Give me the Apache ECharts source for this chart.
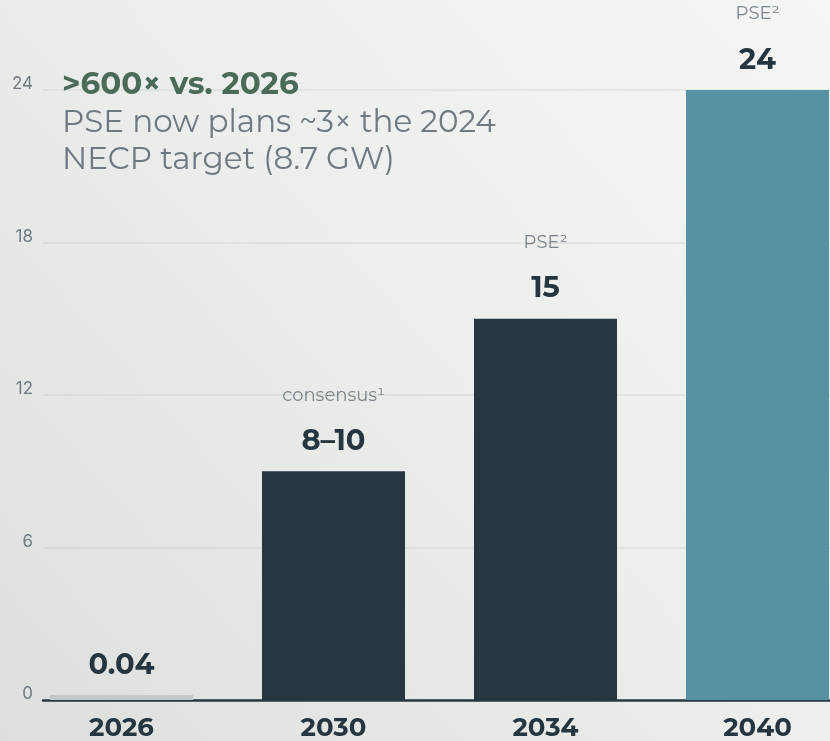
<!DOCTYPE html>
<html>
<head>
<meta charset="utf-8">
<script src="https://cdn.jsdelivr.net/npm/echarts@6/dist/echarts.min.js"></script>
<style>
  html, body { margin: 0; padding: 0; }
  #chart { width: 830px; height: 741px; }
</style>
</head>
<body>
<div id="chart"></div>
<script>
// Offshore wind capacity outlook for Poland (GW)
const years = ['2026', '2030', '2034', '2040'];
const capacity = [0.04, 9, 15, 24];
const valueLabels = ['0.04', '8–10', '15', '24'];
const sourceNotes = ['', 'consensus¹', 'PSE²', 'PSE²'];
const yTicks = [0, 6, 12, 18, 24];

const headline = '>600× vs. 2026';
const subLines = ['PSE now plans ~3× the 2024', 'NECP target (8.7 GW)'];

// bar fills per category
const barFills = ['#c4c8cb', '#273741', '#273741', '#5692a4'];

const FONT = 'Montserrat, Inter, "Open Sans", sans-serif';
const DARK = '#263640';
const GREY = '#707b83';

const chart = echarts.init(document.getElementById('chart'), null, { renderer: 'canvas' });

const yMin = yTicks[0];
const yMax = yTicks[yTicks.length - 1];
const yStep = yTicks[1] - yTicks[0];

const barData = capacity.map((v, i) => ({
  value: v,
  itemStyle: { color: barFills[i] },
  label: {
    formatter: sourceNotes[i]
      ? '{s|' + sourceNotes[i] + '}\n{v|' + valueLabels[i] + '}'
      : '{v|' + valueLabels[i] + '}'
  }
}));

chart.setOption({
  animation: false,
  backgroundColor: {
    type: 'linear', x: 0, y: 1, x2: 1, y2: 0,
    colorStops: [
      { offset: 0, color: '#dcdfdb' },
      { offset: 0.55, color: '#edefed' },
      { offset: 1, color: '#f5f6f4' }
    ]
  },
  textStyle: { fontFamily: FONT },
  title: {
    left: 62,
    top: 65,
    padding: 0,
    text: '{h|' + headline + '}\n' + subLines.map(s => '{b|' + s + '}').join('\n'),
    textStyle: {
      rich: {
        h: { fontFamily: FONT, fontSize: 31, fontWeight: 'bold', color: '#4a6b57', lineHeight: 39 },
        b: { fontFamily: FONT, fontSize: 31, fontWeight: 'normal', color: '#6e7980', lineHeight: 37 }
      }
    }
  },
  grid: [
    { left: 43, right: 0, top: 90, bottom: 41, outerBoundsMode: 'none' },
    { left: 15.5, right: -33.5, top: 90, bottom: 41, outerBoundsMode: 'none' }
  ],
  xAxis: [
    {
      gridIndex: 0, type: 'category', data: years,
      axisLine: { show: true, lineStyle: { color: '#283841', width: 2.5 } },
      axisTick: { show: false }, axisLabel: { show: false }
    },
    {
      gridIndex: 1, type: 'category', data: years,
      axisLine: { show: false }, axisTick: { show: false },
      axisLabel: {
        margin: 15,
        fontFamily: FONT, fontSize: 26, fontWeight: 'bold', color: DARK
      }
    }
  ],
  yAxis: [
    {
      gridIndex: 0, type: 'value', min: yMin, max: yMax, interval: yStep,
      axisLine: { show: false }, axisTick: { show: false },
      axisLabel: {
        margin: 10, fontFamily: 'Inter, sans-serif', fontSize: 17, color: GREY,
        verticalAlign: 'bottom', lineHeight: 12
      },
      splitLine: { show: true, lineStyle: { color: 'rgba(190,196,192,0.25)', width: 2 } }
    },
    {
      gridIndex: 1, type: 'value', min: yMin, max: yMax, interval: yStep,
      axisLine: { show: false }, axisTick: { show: false },
      axisLabel: { show: false }, splitLine: { show: false }
    }
  ],
  series: [
    {
      type: 'bar',
      xAxisIndex: 1, yAxisIndex: 1,
      barWidth: 143,
      barMinHeight: 5,
      data: barData,
      label: {
        show: true,
        position: 'top',
        distance: 13,
        rich: {
          s: { fontFamily: FONT, fontSize: 18, color: '#7a858c', lineHeight: 58, align: 'center' },
          v: { fontFamily: FONT, fontSize: 29, fontWeight: 'bold', color: DARK, lineHeight: 34, align: 'center' }
        }
      }
    }
  ]
});
</script>
</body>
</html>
